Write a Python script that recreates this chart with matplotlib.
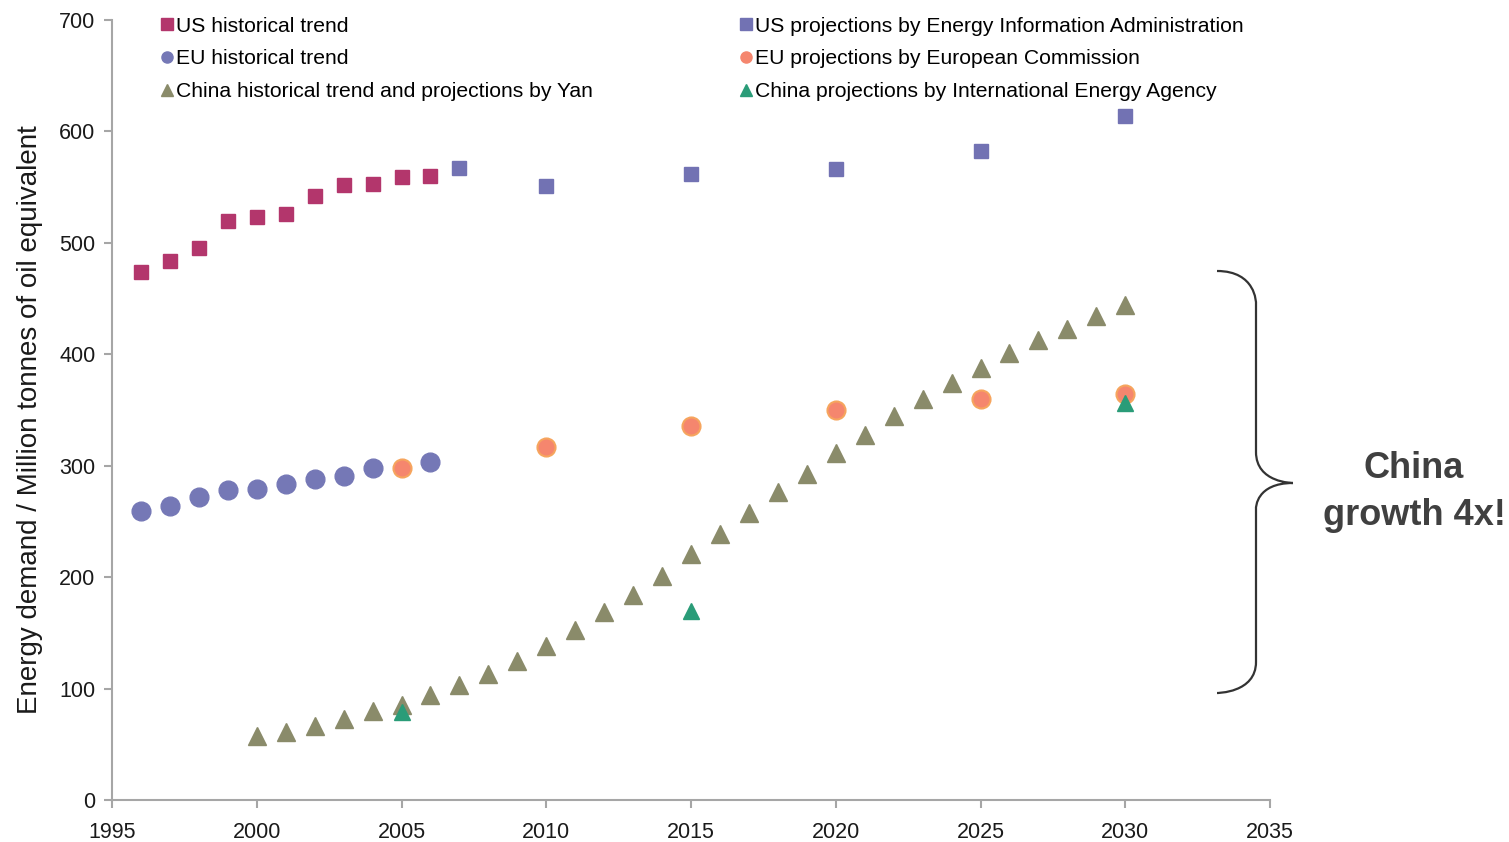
import numpy as np
import matplotlib
matplotlib.use('Agg')
import matplotlib.pyplot as plt
from matplotlib.path import Path
from matplotlib.patches import PathPatch
from matplotlib.lines import Line2D

plt.rcParams['font.family'] = ['Liberation Sans', 'DejaVu Sans']

# data (Mtoe)
us_hist_years = [1996, 1997, 1998, 1999, 2000, 2001, 2002, 2003, 2004, 2005, 2006]
us_hist = [474, 484, 495, 520, 523, 526, 542, 552, 553, 559, 560]

us_proj_years = [2007, 2010, 2015, 2020, 2025, 2030]
us_proj = [567, 551, 562, 566, 582, 614]

eu_hist_years = [1996, 1997, 1998, 1999, 2000, 2001, 2002, 2003, 2004, 2006]
eu_hist = [259, 264, 272, 278, 279, 284, 288, 291, 298, 303]

eu_proj_years = [2005, 2010, 2015, 2020, 2025, 2030]
eu_proj = [298, 317, 336, 350, 360, 364]

china_years = list(range(2000, 2031))
china_yan = [57, 61, 66, 73, 80, 85, 94, 103, 113, 125, 138, 153, 169, 184, 201,
             221, 239, 258, 276, 293, 311, 328, 345, 360, 374, 388, 401, 413, 423, 434, 444]

iea_years = [2005, 2015, 2030]
china_iea = [79, 170, 356]

labels_left = ['US historical trend', 'EU historical trend',
               'China historical trend and projections by Yan']
labels_right = ['US projections by Energy Information Administration',
                'EU projections by European Commission',
                'China projections by International Energy Agency']

W, H = 1509, 842
fig = plt.figure(figsize=(W / 100, H / 100), dpi=100)
ax = fig.add_axes([112 / W, 1 - 800 / H, (1270 - 112) / W, (800 - 20) / H])

c_us = '#B3366C'
c_usp = '#7272B3'
c_eu = '#7578B6'
c_eup = '#F5866E'
c_cn = '#8A8B6A'
c_iea = '#2A9C78'

ax.plot(us_hist_years, us_hist, 's', ms=9.5, color=c_us, mec=c_us)
ax.plot(us_proj_years, us_proj, 's', ms=9.5, color=c_usp, mec=c_usp)
ax.plot(eu_hist_years, eu_hist, 'o', ms=13.5, color=c_eu, mec=c_eu)
ax.plot(eu_proj_years, eu_proj, 'o', ms=13, color=c_eup, mec='#F6A55E', mew=1.5)
ax.plot(china_years, china_yan, '^', ms=12.5, color=c_cn, mec=c_cn)
ax.plot(iea_years, china_iea, '^', ms=12, color=c_iea, mec=c_iea)

ax.set_xlim(1995, 2035)
ax.set_ylim(0, 700)
ax.set_xticks(range(1995, 2036, 5))
ax.set_yticks(range(0, 701, 100))
for s in ['top', 'right']:
    ax.spines[s].set_visible(False)
for s in ['left', 'bottom']:
    ax.spines[s].set_color('#A6A6A6')
    ax.spines[s].set_linewidth(1.5)
ax.tick_params(axis='both', colors='#A6A6A6', length=6, width=1.5,
               labelsize=15.5, labelcolor='#1a1a1a')
ax.tick_params(axis='x', pad=10)
ax.tick_params(axis='y', pad=6)

ax.set_ylabel('Energy demand / Million tonnes of oil equivalent',
              fontsize=20, color='#1a1a1a')
ax.yaxis.set_label_coords(-0.06, 0.488)

# legends
mk = dict(linestyle='none', markersize=8)
h_left = [Line2D([], [], marker='s', color=c_us, **mk),
          Line2D([], [], marker='o', color=c_eu, **mk),
          Line2D([], [], marker='^', color=c_cn, **mk)]
h_right = [Line2D([], [], marker='s', color=c_usp, **mk),
           Line2D([], [], marker='o', color=c_eup, **mk),
           Line2D([], [], marker='^', color=c_iea, **mk)]
lkw = dict(frameon=False, fontsize=15.2, handlelength=0.45, handletextpad=0.2,
           labelspacing=0.65, borderaxespad=0, borderpad=0, loc='upper left')
leg1 = fig.legend(h_left, labels_left, bbox_to_anchor=(162 / W, 1 - 16.5 / H), **lkw)
leg2 = fig.legend(h_right, labels_right, bbox_to_anchor=(741 / W, 1 - 16.5 / H), **lkw)

# curly brace (figure pixel coordinates)
def fp(x, y):
    return (x / W, 1 - y / H)

verts = [fp(1217, 271), fp(1256, 271), fp(1256, 303), fp(1256, 303),
         fp(1256, 452),
         fp(1256, 483), fp(1293, 483), fp(1293, 483),
         fp(1256, 483), fp(1256, 508), fp(1256, 508),
         fp(1256, 662),
         fp(1256, 693), fp(1217, 693), fp(1217, 693)]
codes = [Path.MOVETO, Path.CURVE4, Path.CURVE4, Path.CURVE4,
         Path.LINETO,
         Path.CURVE4, Path.CURVE4, Path.CURVE4,
         Path.CURVE4, Path.CURVE4, Path.CURVE4,
         Path.LINETO,
         Path.CURVE4, Path.CURVE4, Path.CURVE4]
brace = PathPatch(Path(verts, codes), transform=fig.transFigure, fill=False,
                  edgecolor='#333333', linewidth=1.6)
fig.patches.append(brace)

fig.text(1414 / W, 1 - 492 / H, 'China\ngrowth 4x!', ha='center', va='center',
         fontsize=26, fontweight='bold', color='#404040', linespacing=1.45)

fig.savefig('out.png', dpi=100)
